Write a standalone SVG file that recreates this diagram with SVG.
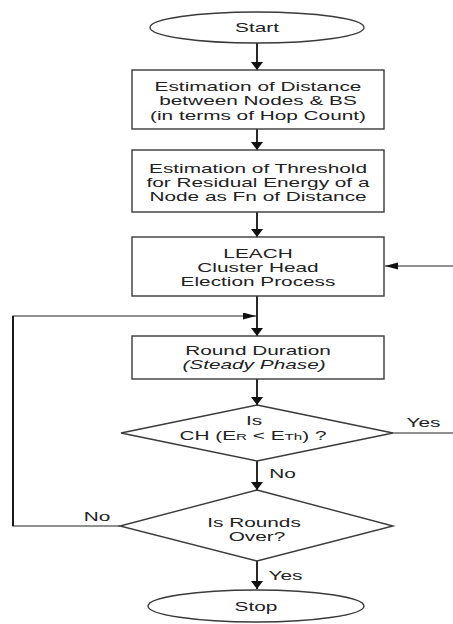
<svg xmlns="http://www.w3.org/2000/svg" width="453" height="624" viewBox="0 0 453 624">
<style>
  .bg { fill: #ffffff; }
  .shape { fill: #ffffff; stroke: #3a3a3a; stroke-width: 1.4; }
  .conn { fill: none; stroke: #111111; stroke-width: 1.8; }
  .connh { fill: none; stroke: #222222; stroke-width: 1.2; }
  text { font-family: "Liberation Sans", Arial, sans-serif; font-size: 13px; fill: #222222; text-anchor: middle; }
  .it { font-style: italic; }
  .sub { font-size: 9.5px; }
</style>
<defs>
  <marker id="arrowV" markerUnits="userSpaceOnUse" markerWidth="10" markerHeight="14" refX="8" refY="6" orient="auto">
    <path d="M0,0 L8,6 L0,12 Z" fill="#111111"/>
  </marker>
  <marker id="arrowH" markerUnits="userSpaceOnUse" markerWidth="14" markerHeight="8" refX="13" refY="3.5" orient="auto">
    <path d="M0,0 L13,3.5 L0,7 Z" fill="#111111"/>
  </marker>
</defs>
<rect class="bg" x="0" y="0" width="453" height="624"/>

<g id="connectors">
  <line class="conn" x1="257" y1="43" x2="257" y2="70" marker-end="url(#arrowV)"/>
  <line class="conn" x1="257" y1="129" x2="257" y2="150" marker-end="url(#arrowV)"/>
  <line class="conn" x1="257" y1="212" x2="257" y2="237" marker-end="url(#arrowV)"/>
  <line class="conn" x1="257" y1="296" x2="257" y2="336" marker-end="url(#arrowV)"/>
  <line class="conn" x1="257" y1="379" x2="257" y2="405" marker-end="url(#arrowV)"/>
  <line class="conn" x1="257" y1="461" x2="257" y2="490" marker-end="url(#arrowV)"/>
  <line class="conn" x1="257" y1="561" x2="257" y2="589" marker-end="url(#arrowV)"/>
  <line class="connh" x1="393" y1="433" x2="453" y2="433"/>
  <line class="connh" x1="453" y1="266" x2="385" y2="266" marker-end="url(#arrowH)"/>
  <polyline class="connh" points="120,526 13,526 13,316 256,316" marker-end="url(#arrowH)"/>
  <line class="conn" x1="13" y1="316" x2="13" y2="526"/>
  <text transform="translate(423.5,427) scale(1.6,1)">Yes</text>
  <text transform="translate(282.5,478) scale(1.6,1)">No</text>
  <text transform="translate(97,521) scale(1.6,1)">No</text>
  <text transform="translate(285.5,580) scale(1.6,1)">Yes</text>
</g>

<g id="start">
  <ellipse class="shape" cx="257" cy="27.5" rx="107" ry="15.5"/>
  <text transform="translate(257,32) scale(1.6,1)">Start</text>
</g>

<g id="estimate-distance">
  <rect class="shape" x="132" y="70" width="252" height="59"/>
  <text transform="translate(258,91) scale(1.6,1)">Estimation of Distance</text>
  <text transform="translate(258,105) scale(1.6,1)">between Nodes &amp; BS</text>
  <text transform="translate(258,119.5) scale(1.6,1)">(in terms of Hop Count)</text>
</g>

<g id="estimate-threshold">
  <rect class="shape" x="132" y="150" width="252" height="62"/>
  <text transform="translate(258,173) scale(1.6,1)">Estimation of Threshold</text>
  <text transform="translate(258,187) scale(1.6,1)">for Residual Energy of a</text>
  <text transform="translate(258,200.5) scale(1.6,1)">Node as Fn of Distance</text>
</g>

<g id="leach">
  <rect class="shape" x="132" y="237" width="252" height="59"/>
  <text transform="translate(258,257.5) scale(1.6,1)">LEACH</text>
  <text transform="translate(258,271.5) scale(1.6,1)">Cluster Head</text>
  <text transform="translate(258,286) scale(1.6,1)">Election Process</text>
</g>

<g id="round-duration">
  <rect class="shape" x="132" y="336" width="252" height="43"/>
  <text transform="translate(258,354.5) scale(1.6,1)">Round Duration</text>
  <text class="it" transform="translate(254,368.5) scale(1.6,1)">(Steady Phase)</text>
</g>

<g id="decision-ch">
  <polygon class="shape" points="257,405 393,433 257,461 121,433"/>
  <text transform="translate(254,425) scale(1.6,1)">Is</text>
  <text transform="translate(253,440) scale(1.6,1)">CH (E<tspan class="sub">R</tspan> &lt; E<tspan class="sub">Th</tspan>) ?</text>
</g>

<g id="decision-rounds">
  <polygon class="shape" points="257,490 393,526 257,561 120,526"/>
  <text transform="translate(254,527) scale(1.6,1)">Is Rounds</text>
  <text transform="translate(257,541) scale(1.6,1)">Over?</text>
</g>

<g id="stop">
  <ellipse class="shape" cx="256" cy="606" rx="108" ry="16"/>
  <text transform="translate(256,611) scale(1.6,1)">Stop</text>
</g>
</svg>
